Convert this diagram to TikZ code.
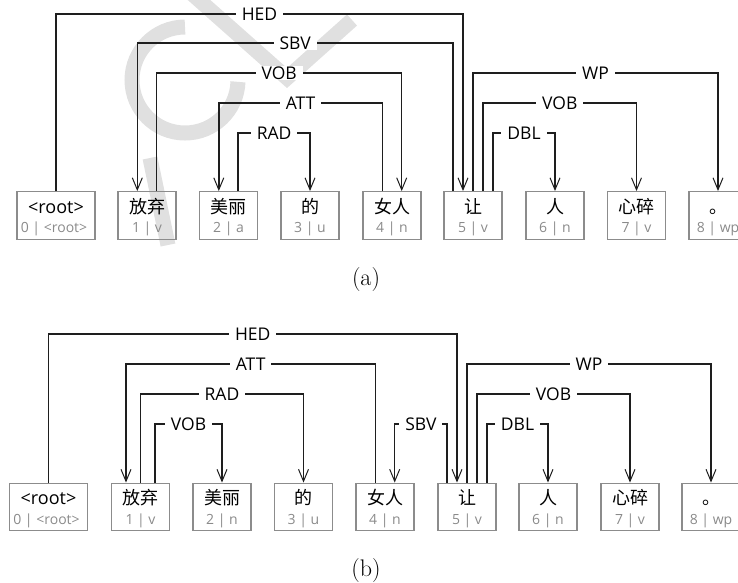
\documentclass[tikz,border=0pt]{standalone}
\usepackage{fontspec}
\setsansfont{Open Sans}
\newfontfamily\cjkfont{Noto Sans CJK SC}
\usetikzlibrary{arrows.meta}
\definecolor{boxgray}{HTML}{8C8C8C}
\definecolor{subgray}{HTML}{8A8A8A}
\definecolor{linecol}{HTML}{1E1E1E}
\definecolor{wmark}{HTML}{E0E0E0}
\tikzset{
 tokbox/.style={draw=boxgray, line width=1.4pt, minimum width=58pt, minimum height=47.5pt, inner sep=0pt},
 rootbox/.style={tokbox, minimum width=78pt},
 wordtxt/.style={font=\fontsize{18}{21}\selectfont\sffamily, anchor=base, inner sep=0pt},
 cjktxt/.style={font=\fontsize{18}{21}\selectfont\cjkfont, anchor=base, inner sep=0pt},
 subtxt/.style={font=\fontsize{14}{16}\selectfont\sffamily, text=subgray, anchor=base, inner sep=0pt},
 deplabel/.style={font=\fontsize{17.5}{20}\selectfont\sffamily, fill=white, inner xsep=6pt, inner ysep=1pt},
 dep/.style={draw=linecol, line width=1.5pt, -{Straight Barb[length=12pt,width=10pt,line width=1pt]}},
 capt/.style={font=\fontsize{24}{28}\selectfont\rmfamily, anchor=base, inner sep=0pt},
 wmk/.style={draw=wmark, line width=15pt}
}
% #1 from node, #2 xshift, #3 to node, #4 xshift, #5 level, #6 label
\newcommand\deparc[6]{%
 \coordinate (s) at ([xshift=#2pt]#1.north);
 \coordinate (t) at ([xshift=#4pt]#3.north);
 \draw[dep] (s) -- (s |- 0,#5) -- node[deplabel]{#6} (t |- 0,#5) -- (t);
}
% #1 name, #2 x, #3 y(center), #4 word, #5 sub, #6 style of word
\newcommand\tok[6]{%
 \node[tokbox] (#1) at (#2,#3) {};
 \node[#6] (#1w) at (#2,#3-2.5) {#4};
 \node[subtxt] (#1s) at (#2,#3+17.2) {#5};
}
\begin{document}
\begin{tikzpicture}[x=1pt,y=-1pt]
\useasboundingbox (0,0) rectangle (738,582);
\clip (0,0) rectangle (738,582);
% watermark
\draw[wmk] (185,27) arc[start angle=-90, end angle=-358, radius=53];
\draw[wmk] (150,158) -- (168,245);
\draw[wmk] (190,-8) -- (287,78) -- (352,20);
% ---------- (a)
\node[rootbox] (a0) at (56,215.5) {};
\node[wordtxt] (a0w) at (56,213) {<root>};
\node[subtxt] (a0s) at (54,232.7) {0 | <root>};
\tok{a1}{147}{215.5}{放弃}{1 | v}{cjktxt}
\tok{a2}{228.5}{215.5}{美丽}{2 | a}{cjktxt}
\tok{a3}{310}{215.5}{的}{3 | u}{cjktxt}
\tok{a4}{392}{215.5}{女人}{4 | n}{cjktxt}
\tok{a5}{473}{215.5}{让}{5 | v}{cjktxt}
\tok{a6}{555}{215.5}{人}{6 | n}{cjktxt}
\tok{a7}{636.5}{215.5}{心碎}{7 | v}{cjktxt}
\tok{a8}{718}{215.5}{。}{8 | wp}{cjktxt}
\deparc{a0}{0}{a5}{-10}{14}{HED}
\deparc{a5}{-20}{a1}{-9.7}{43}{SBV}
\deparc{a1}{9.7}{a4}{9.7}{73}{VOB}
\deparc{a4}{-9.7}{a2}{-9.7}{103}{ATT}
\deparc{a2}{9.7}{a3}{0}{133}{RAD}
\deparc{a5}{0}{a8}{0}{73}{WP}
\deparc{a5}{10}{a7}{0}{103}{VOB}
\deparc{a5}{20}{a6}{0}{133}{DBL}
\node[capt] (capa) at (366,285) {(a)};
% ---------- (b)
\node[rootbox] (b0) at (48.5,507) {};
\node[wordtxt] (b0w) at (48.5,504.5) {<root>};
\node[subtxt] (b0s) at (46.5,524.2) {0 | <root>};
\tok{b1}{140.5}{507}{放弃}{1 | v}{cjktxt}
\tok{b2}{222}{507}{美丽}{2 | n}{cjktxt}
\tok{b3}{303.5}{507}{的}{3 | u}{cjktxt}
\tok{b4}{385}{507}{女人}{4 | n}{cjktxt}
\tok{b5}{467}{507}{让}{5 | v}{cjktxt}
\tok{b6}{548}{507}{人}{6 | n}{cjktxt}
\tok{b7}{630}{507}{心碎}{7 | v}{cjktxt}
\tok{b8}{711}{507}{。}{8 | wp}{cjktxt}
\deparc{b0}{0}{b5}{-10}{334}{HED}
\deparc{b4}{-9.7}{b1}{-14.5}{364}{ATT}
\deparc{b1}{0}{b3}{0}{394}{RAD}
\deparc{b1}{14.5}{b2}{0}{424}{VOB}
\deparc{b5}{-20}{b4}{9.7}{424}{SBV}
\deparc{b5}{0}{b8}{0}{364}{WP}
\deparc{b5}{10}{b7}{0}{394}{VOB}
\deparc{b5}{20}{b6}{0}{424}{DBL}
\node[capt] (capb) at (366,576) {(b)};
\end{tikzpicture}
\end{document}
